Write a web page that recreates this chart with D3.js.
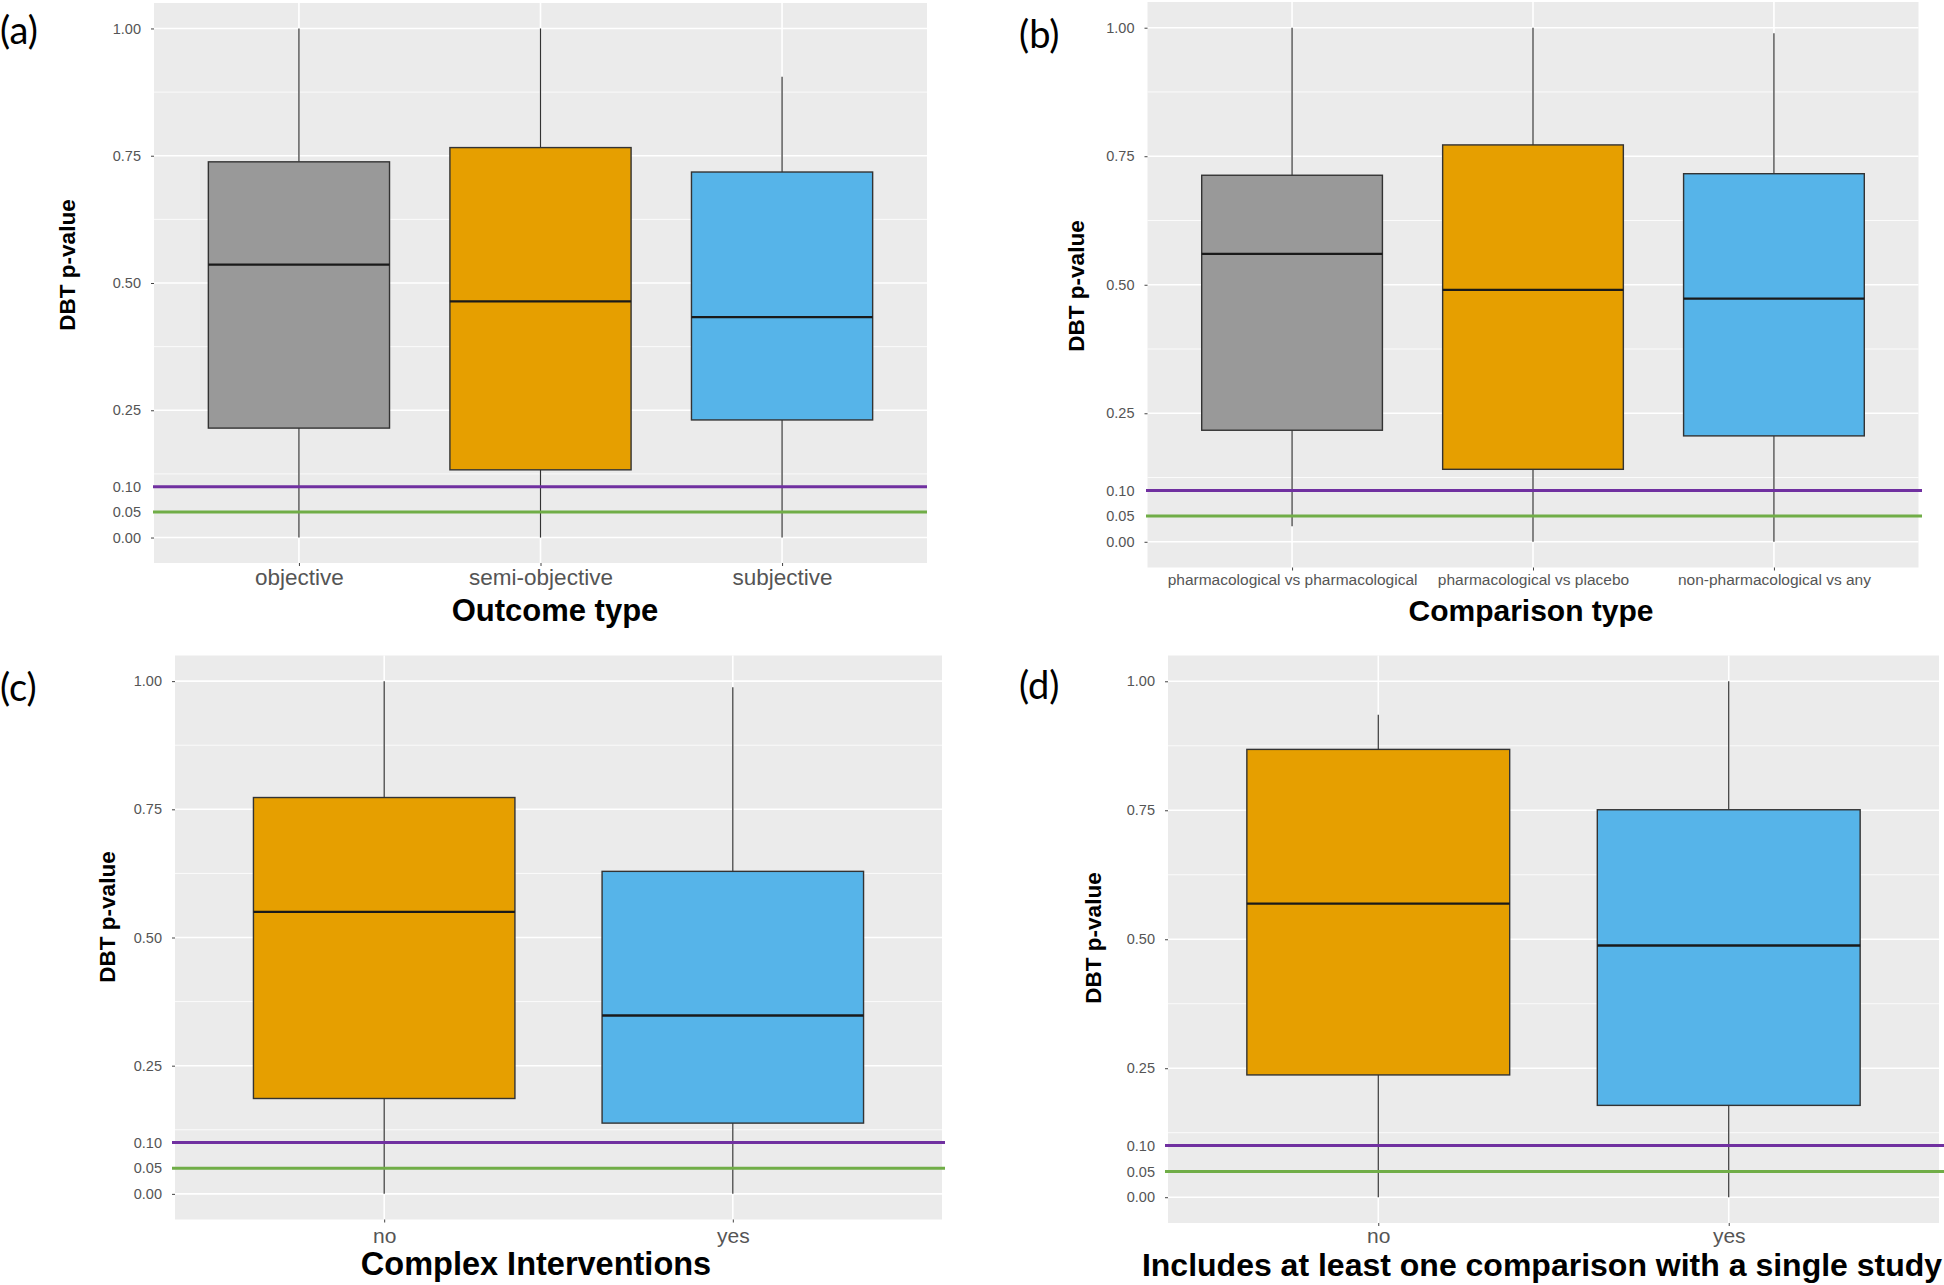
<!DOCTYPE html>
<html>
<head>
<meta charset="utf-8">
<script src="https://cdn.jsdelivr.net/npm/d3@7"></script>
<style>
  body { margin: 0; background: #fff; }
  svg { display: block; font-family: "Liberation Sans", Arial, sans-serif; }
</style>
</head>
<body>
<svg width="1944" height="1285"></svg>
<script>
// (a) Outcome type
var outcomeCats   = ["objective", "semi-objective", "subjective"],
    outcomeLow    = [0, 0, 0],
    outcomeQ1     = [0.215, 0.133, 0.231],
    outcomeMedian = [0.536, 0.464, 0.433],
    outcomeQ3     = [0.738, 0.766, 0.718],
    outcomeHigh   = [1, 1, 0.905];

// (b) Comparison type
var comparisonCats   = ["pharmacological vs pharmacological", "pharmacological vs placebo", "non-pharmacological vs any"],
    comparisonLow    = [0.03, 0, 0],
    comparisonQ1     = [0.217, 0.141, 0.206],
    comparisonMedian = [0.560, 0.490, 0.473],
    comparisonQ3     = [0.713, 0.772, 0.716],
    comparisonHigh   = [1, 1, 0.989];

// (c) Complex interventions
var complexCats   = ["no", "yes"],
    complexLow    = [0, 0],
    complexQ1     = [0.186, 0.138],
    complexMedian = [0.550, 0.348],
    complexQ3     = [0.773, 0.629],
    complexHigh   = [1, 0.988];

// (d) single study comparison
var singleCats   = ["no", "yes"],
    singleLow    = [0, 0],
    singleQ1     = [0.237, 0.178],
    singleMedian = [0.569, 0.488],
    singleQ3     = [0.868, 0.751],
    singleHigh   = [0.935, 1];

var yTicks      = [0, 0.25, 0.5, 0.75, 1],
    yMinorTicks = [0.125, 0.375, 0.625, 0.875],
    thresholds  = [0.10, 0.05];

var gray = "#999999", orange = "#E69F00", blue = "#56B4E9",
    purple = "#7030A0", green = "#70AD47",
    panel_bg = "#EBEBEB", tick_color = "#555555";

// one entry per facet, data arrays + where it sits on the page
var panels = [
  { tag: "(a)", title: "Outcome type", cats: outcomeCats, low: outcomeLow, q1: outcomeQ1,
    med: outcomeMedian, q3: outcomeQ3, high: outcomeHigh, fills: [gray, orange, blue],
    left: 154, right: 927, top: 3, bottom: 563, lineL: 153, lineR: 927,
    tagX: 0, tagY: 31, titleX: 555, titleY: 621, titleSize: 31, catSize: 22.5, catY: 585,
    ylabX: 67, ylabY: 265 },
  { tag: "(b)", title: "Comparison type", cats: comparisonCats, low: comparisonLow, q1: comparisonQ1,
    med: comparisonMedian, q3: comparisonQ3, high: comparisonHigh, fills: [gray, orange, blue],
    left: 1147.5, right: 1918.5, top: 2, bottom: 567.5, lineL: 1146, lineR: 1922,
    tagX: 1019, tagY: 35, titleX: 1531, titleY: 621, titleSize: 30, catSize: 15.5, catY: 585,
    ylabX: 1076, ylabY: 286 },
  { tag: "(c)", title: "Complex Interventions", cats: complexCats, low: complexLow, q1: complexQ1,
    med: complexMedian, q3: complexQ3, high: complexHigh, fills: [orange, blue],
    left: 175, right: 942, top: 655.5, bottom: 1219.5, lineL: 172, lineR: 945,
    tagX: 0, tagY: 688, titleX: 536, titleY: 1275, titleSize: 32.5, catSize: 21, catY: 1243,
    ylabX: 107, ylabY: 917 },
  { tag: "(d)", title: "Includes at least one comparison with a single study", cats: singleCats,
    low: singleLow, q1: singleQ1, med: singleMedian, q3: singleQ3, high: singleHigh, fills: [orange, blue],
    left: 1168, right: 1939, top: 655.5, bottom: 1223, lineL: 1165, lineR: 1944,
    tagX: 1019, tagY: 686, titleX: 1542, titleY: 1276, titleSize: 32, catSize: 21, catY: 1243,
    ylabX: 1093, ylabY: 938 }
];

var svg = d3.select("svg");

panels.forEach(function(p) {
  var g = svg.append("g");

  var x = d3.scalePoint().domain(p.cats).range([p.left, p.right]).padding(0.6);
  var y = d3.scaleLinear().domain([-0.05, 1.05]).range([p.bottom, p.top]);
  var boxW = x.step() * 0.75;

  // panel background + grid
  g.append("rect")
    .attr("x", p.left).attr("y", p.top)
    .attr("width", p.right - p.left).attr("height", p.bottom - p.top)
    .attr("fill", panel_bg);

  g.selectAll(".minor").data(yMinorTicks).enter().append("line")
    .attr("x1", p.left).attr("x2", p.right)
    .attr("y1", y).attr("y2", y)
    .attr("stroke", "#fff").attr("stroke-width", 0.8);

  g.selectAll(".major").data(yTicks).enter().append("line")
    .attr("x1", p.left).attr("x2", p.right)
    .attr("y1", y).attr("y2", y)
    .attr("stroke", "#fff").attr("stroke-width", 1.6);

  g.selectAll(".vgrid").data(p.cats).enter().append("line")
    .attr("x1", x).attr("x2", x)
    .attr("y1", p.top).attr("y2", p.bottom)
    .attr("stroke", "#fff").attr("stroke-width", 1.6);

  // y axis
  var yAxis = g.append("g")
    .attr("transform", "translate(" + p.left + ",0)")
    .call(d3.axisLeft(y).tickValues(yTicks).tickFormat(d3.format(".2f")).tickSize(3).tickPadding(10));
  var yAxis2 = g.append("g")
    .attr("transform", "translate(" + p.left + ",0)")
    .call(d3.axisLeft(y).tickValues(thresholds).tickFormat(d3.format(".2f")).tickSize(0).tickPadding(13));
  [yAxis, yAxis2].forEach(function(a) {
    a.select(".domain").remove();
    a.selectAll("line").attr("stroke", "#444");
    a.selectAll("text").attr("font-size", "14.5px").attr("fill", tick_color)
      .attr("font-family", "Liberation Sans, Arial, sans-serif");
  });

  // x axis
  var xAxis = g.append("g")
    .attr("transform", "translate(0," + p.bottom + ")")
    .call(d3.axisBottom(x).tickSize(3));
  xAxis.select(".domain").remove();
  xAxis.selectAll("line").attr("stroke", "#444");
  xAxis.selectAll("text")
    .attr("y", p.catY - p.bottom).attr("dy", 0)
    .attr("font-size", p.catSize + "px").attr("fill", tick_color)
    .attr("font-family", "Liberation Sans, Arial, sans-serif");

  // boxes
  var rows = p.cats.map(function(c, i) {
    return { cat: c, low: p.low[i], q1: p.q1[i], med: p.med[i], q3: p.q3[i], high: p.high[i], fill: p.fills[i] };
  });

  var box = g.selectAll(".box").data(rows).enter().append("g");

  box.append("line")
    .attr("x1", function(d) { return x(d.cat); }).attr("x2", function(d) { return x(d.cat); })
    .attr("y1", function(d) { return y(d.q3); }).attr("y2", function(d) { return y(d.high); })
    .attr("stroke", "#333").attr("stroke-width", 1.2);
  box.append("line")
    .attr("x1", function(d) { return x(d.cat); }).attr("x2", function(d) { return x(d.cat); })
    .attr("y1", function(d) { return y(d.q1); }).attr("y2", function(d) { return y(d.low); })
    .attr("stroke", "#333").attr("stroke-width", 1.2);
  box.append("rect")
    .attr("x", function(d) { return x(d.cat) - boxW / 2; })
    .attr("width", boxW)
    .attr("y", function(d) { return y(d.q3); })
    .attr("height", function(d) { return y(d.q1) - y(d.q3); })
    .attr("fill", function(d) { return d.fill; })
    .attr("stroke", "#333").attr("stroke-width", 1.4);
  box.append("line")
    .attr("x1", function(d) { return x(d.cat) - boxW / 2; })
    .attr("x2", function(d) { return x(d.cat) + boxW / 2; })
    .attr("y1", function(d) { return y(d.med); }).attr("y2", function(d) { return y(d.med); })
    .attr("stroke", "#1a1a1a").attr("stroke-width", 2.4);

  // significance thresholds
  g.selectAll(".thr").data(thresholds).enter().append("line")
    .attr("x1", p.lineL).attr("x2", p.lineR)
    .attr("y1", y).attr("y2", y)
    .attr("stroke", function(d, i) { return i === 0 ? purple : green; })
    .attr("stroke-width", 3);

  // titles
  g.append("text")
    .attr("x", p.titleX).attr("y", p.titleY)
    .attr("text-anchor", "middle")
    .attr("font-weight", "bold").attr("font-size", p.titleSize + "px")
    .attr("fill", "#000")
    .text(p.title);

  g.append("text")
    .attr("transform", "translate(" + p.ylabX + "," + p.ylabY + ") rotate(-90)")
    .attr("text-anchor", "middle").attr("dy", "0.35em")
    .attr("font-weight", "bold").attr("font-size", "22.5px")
    .attr("fill", "#000")
    .text("DBT p-value");

  g.append("text")
    .attr("x", p.tagX).attr("y", p.tagY)
    .attr("dy", "0.35em")
    .attr("font-family", "Lato, 'Open Sans', sans-serif")
    .attr("font-size", "38px").attr("fill", "#000")
    .text(p.tag);
});
</script>
</body>
</html>
